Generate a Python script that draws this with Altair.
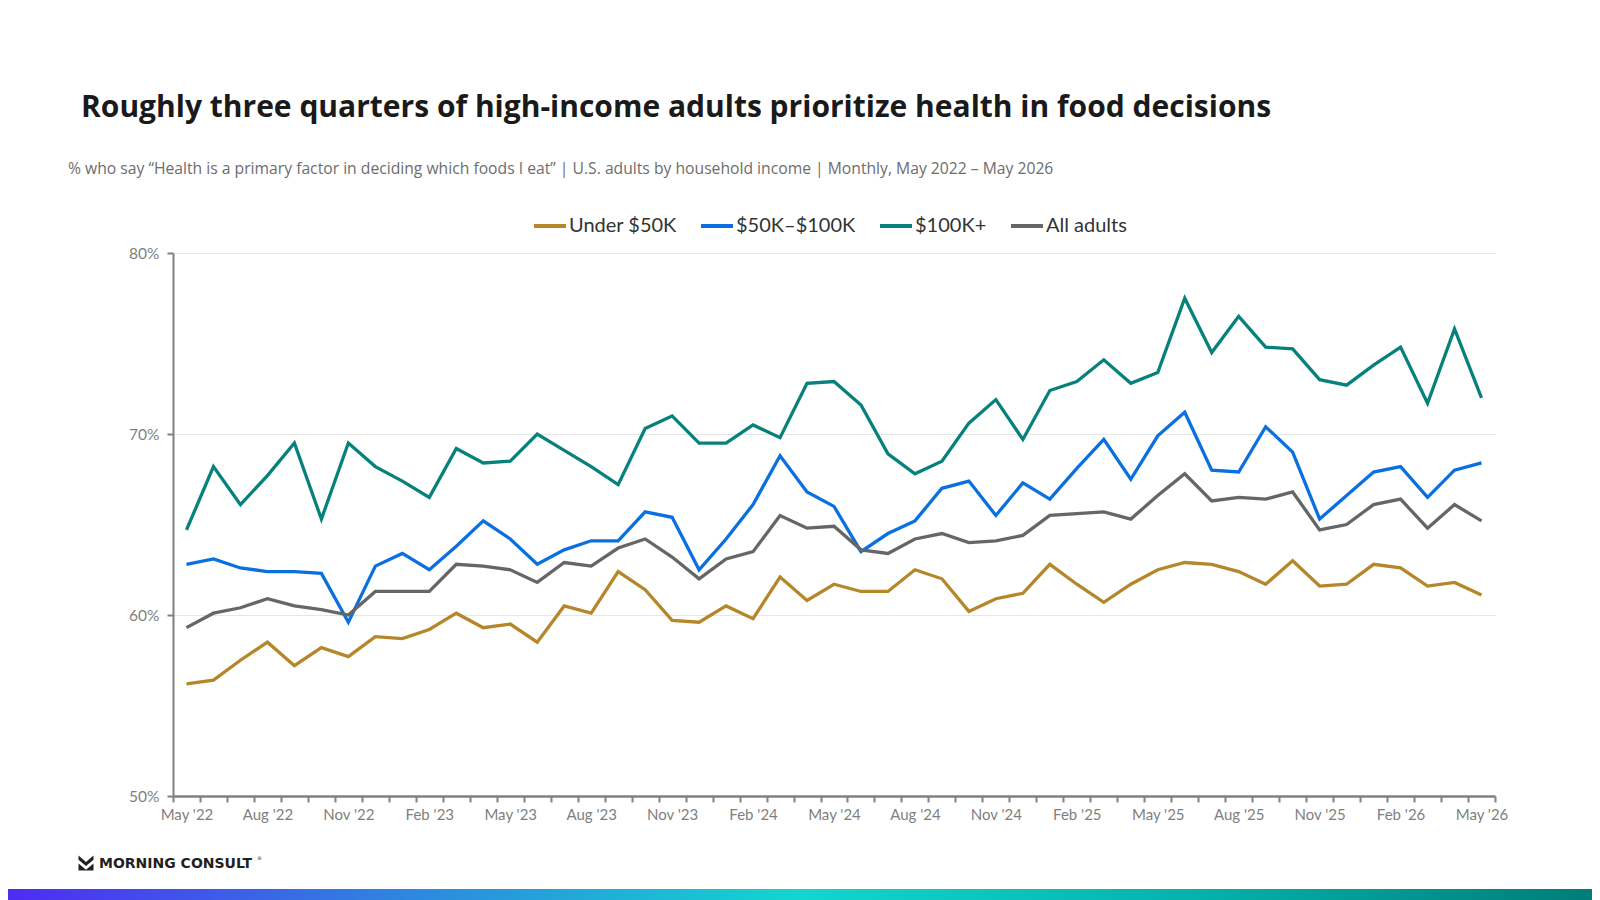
import altair as alt
import pandas as pd

# ---------------- data ----------------
months = [
    "May '22", "Jun '22", "Jul '22", "Aug '22", "Sep '22", "Oct '22", "Nov '22", "Dec '22",
    "Jan '23", "Feb '23", "Mar '23", "Apr '23", "May '23", "Jun '23", "Jul '23", "Aug '23",
    "Sep '23", "Oct '23", "Nov '23", "Dec '23", "Jan '24", "Feb '24", "Mar '24", "Apr '24",
    "May '24", "Jun '24", "Jul '24", "Aug '24", "Sep '24", "Oct '24", "Nov '24", "Dec '24",
    "Jan '25", "Feb '25", "Mar '25", "Apr '25", "May '25", "Jun '25", "Jul '25", "Aug '25",
    "Sep '25", "Oct '25", "Nov '25", "Dec '25", "Jan '26", "Feb '26", "Mar '26", "Apr '26",
    "May '26",
]
tick_labels = [
    "May '22", "Aug '22", "Nov '22", "Feb '23", "May '23", "Aug '23", "Nov '23", "Feb '24",
    "May '24", "Aug '24", "Nov '24", "Feb '25", "May '25", "Aug '25", "Nov '25", "Feb '26",
    "May '26",
]

under_50k = [
    56.2, 56.4, 57.5, 58.5, 57.2, 58.2, 57.7, 58.8, 58.7, 59.2, 60.1, 59.3, 59.5,
    58.5, 60.5, 60.1, 62.4, 61.4, 59.7, 59.6, 60.5, 59.8, 62.1, 60.8, 61.7,
    61.3, 61.3, 62.5, 62.0, 60.2, 60.9, 61.2, 62.8, 61.7, 60.7, 61.7, 62.5,
    62.9, 62.8, 62.4, 61.7, 63.0, 61.6, 61.7, 62.8, 62.6, 61.6, 61.8, 61.1,
]
k50_100k = [
    62.8, 63.1, 62.6, 62.4, 62.4, 62.3, 59.6, 62.7, 63.4, 62.5, 63.8, 65.2, 64.2,
    62.8, 63.6, 64.1, 64.1, 65.7, 65.4, 62.5, 64.2, 66.1, 68.8, 66.8, 66.0,
    63.5, 64.5, 65.2, 67.0, 67.4, 65.5, 67.3, 66.4, 68.1, 69.7, 67.5, 69.9,
    71.2, 68.0, 67.9, 70.4, 69.0, 65.3, 66.6, 67.9, 68.2, 66.5, 68.0, 68.4,
]
k100_plus = [
    64.7, 68.2, 66.1, 67.7, 69.5, 65.3, 69.5, 68.2, 67.4, 66.5, 69.2, 68.4, 68.5,
    70.0, 69.1, 68.2, 67.2, 70.3, 71.0, 69.5, 69.5, 70.5, 69.8, 72.8, 72.9,
    71.6, 68.9, 67.8, 68.5, 70.6, 71.9, 69.7, 72.4, 72.9, 74.1, 72.8, 73.4,
    77.5, 74.5, 76.5, 74.8, 74.7, 73.0, 72.7, 73.8, 74.8, 71.7, 75.8, 72.0,
]
all_adults = [
    59.3, 60.1, 60.4, 60.9, 60.5, 60.3, 60.0, 61.3, 61.3, 61.3, 62.8, 62.7, 62.5,
    61.8, 62.9, 62.7, 63.7, 64.2, 63.2, 62.0, 63.1, 63.5, 65.5, 64.8, 64.9,
    63.6, 63.4, 64.2, 64.5, 64.0, 64.1, 64.4, 65.5, 65.6, 65.7, 65.3, 66.6,
    67.8, 66.3, 66.5, 66.4, 66.8, 64.7, 65.0, 66.1, 66.4, 64.8, 66.1, 65.2,
]

series_names = ["Under $50K", "$50K\u2013$100K", "$100K+", "All adults"]
series_colors = ["#B5872A", "#0A6FDF", "#07817C", "#666666"]
y_ticks = [50, 60, 70, 80]

title_text = "Roughly three quarters of high-income adults prioritize health in food decisions"
subtitle_text = ("% who say \u201cHealth is a primary factor in deciding which foods I eat\u201d | "
                 "U.S. adults by household income | Monthly, May 2022 \u2013 May 2026")
brand_text = "MORNING CONSULT"

rows = []
for name, vals in zip(series_names, [under_50k, k50_100k, k100_plus, all_adults]):
    for pos, (m, v) in enumerate(zip(months, vals)):
        rows.append({"pos": pos, "month": m, "series": name, "pct": v})
df = pd.DataFrame(rows)
one = pd.DataFrame({"k": [0]})

# ---------------- layout ----------------
W, H = 1322, 543
PL, PT = 165, 245
PR = 1584 - PL - W
PB = 892 - PT - H
n = len(months)
band = W / n

# tick marks at the boundaries between months, labels every third month
boundaries = [i - 0.5 for i in range(n + 1)]
label_array = "[" + ",".join('"' + t + '"' for t in tick_labels) + "]"
x_label_expr = ("(datum.value + 0.5) % 3 == 0 && (datum.value + 0.5) < "
                + str(n) + " ? " + label_array + "[round((datum.value + 0.5) / 3)] : ''")

x_enc = alt.X(
    "pos:Q", title=None,
    scale=alt.Scale(domain=[-0.5, n - 0.5], nice=False, zero=False),
    axis=alt.Axis(
        values=boundaries, labelExpr=x_label_expr,
        labelOffset=band / 2, labelOverlap=False, labelFlush=False, labelBound=False,
        labelAngle=0, grid=False,
        domainColor="#808080", domainWidth=2.5,
        tickColor="#808080", tickWidth=2, tickSize=6,
        labelColor="#7f7f7f", labelFont="Lato", labelFontSize=15, labelPadding=5,
    ),
)
y_enc = alt.Y(
    "pct:Q", title=None,
    scale=alt.Scale(domain=[50, 80], nice=False, zero=False),
    axis=alt.Axis(
        values=y_ticks, labelExpr="datum.value + '%'",
        gridColor="#e6e6e6", gridWidth=1,
        domainColor="#808080", domainWidth=2,
        tickColor="#808080", tickWidth=2, tickSize=6,
        labelColor="#7f7f7f", labelFont="Lato", labelFontSize=15.5, labelPadding=8,
    ),
)
color_enc = alt.Color(
    "series:N",
    scale=alt.Scale(domain=series_names, range=series_colors),
    legend=alt.Legend(
        title=None, orient="none", direction="horizontal",
        legendX=359, legendY=-45,
        symbolType="stroke", symbolSize=1024, symbolStrokeWidth=4,
        labelFont="Lato", labelFontSize=20, labelColor="#333333",
        labelOffset=1, columnPadding=16, labelLimit=400,
    ),
)

lines = alt.Chart(df).mark_line(strokeWidth=3.3).encode(
    x=x_enc, y=y_enc, color=color_enc, detail="series:N"
)

title = alt.Chart(one).mark_text(
    text=title_text, align="left", baseline="alphabetic",
    font="Open Sans", fontSize=30, fontWeight="bold", color="#1a1a1a",
).encode(x=alt.value(-92), y=alt.value(-136))

subtitle = alt.Chart(one).mark_text(
    text=subtitle_text, align="left", baseline="alphabetic",
    font="Open Sans", fontSize=15.7, color="#6d6d6d",
).encode(x=alt.value(-105), y=alt.value(-79))

brand = alt.Chart(one).mark_text(
    text=brand_text, align="left", baseline="alphabetic",
    font="DejaVu Sans", fontSize=14, fontWeight="bold", color="#231f20",
).encode(x=alt.value(-74), y=alt.value(615))

brand_reg = alt.Chart(one).mark_text(
    text="\u00ae", align="left", baseline="alphabetic",
    font="DejaVu Sans", fontSize=5, color="#231f20",
).encode(x=alt.value(84), y=alt.value(607))

icon = alt.Chart(one).mark_point(
    shape="M-1,-1L0,-0.15L1,-1L1,-0.45L0,0.4L-1,-0.45Z M-1,0.05L0,0.9L1,0.05L1,1L-1,1Z",
    filled=True, color="#231f20", size=225, opacity=1, strokeWidth=0,
).encode(x=alt.value(-87), y=alt.value(610))

grad = alt.Gradient(
    gradient="linear", x1=0, x2=1, y1=0, y2=0,
    stops=[
        alt.GradientStop(offset=0, color="#4F2BF2"),
        alt.GradientStop(offset=0.25, color="#2E86E0"),
        alt.GradientStop(offset=0.5, color="#12D6CF"),
        alt.GradientStop(offset=0.75, color="#05B2AC"),
        alt.GradientStop(offset=1, color="#007D78"),
    ],
)
bar = alt.Chart(one).mark_rect(color=grad).encode(
    x=alt.value(-PL), x2=alt.value(W + PR), y=alt.value(H + PB - 11), y2=alt.value(H + PB)
)

chart = alt.layer(lines, title, subtitle, brand, brand_reg, icon, bar).properties(
    width=W, height=H,
    padding={"left": PL, "top": PT, "right": PR, "bottom": PB},
    autosize=alt.AutoSizeParams(type="none"),
    background="white",
).configure_view(stroke="transparent")

chart.save("out.html", embed_options={"renderer": "svg", "actions": False})
